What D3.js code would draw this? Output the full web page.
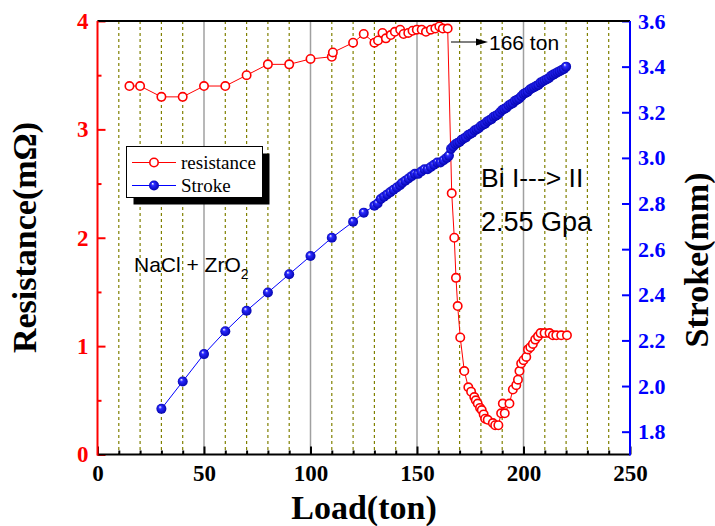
<!DOCTYPE html>
<html>
<head>
<meta charset="utf-8">
<script src="https://cdn.jsdelivr.net/npm/d3@7"></script>
<style>
  body { margin: 0; background: #fff; }
  svg { display: block; }
  .tick text { font-family: "Liberation Serif", "Times New Roman", serif; font-weight: bold; }
</style>
</head>
<body>
<div id="chart"></div>
<script>
// resistance (left axis, mOhm) vs load (ton)
const resLoad = [15,20,30,40,50,60,70,80,90,100,110,110.5,120,125,130,131.7,133.8,135.4,137.7,139.6,
  142.1,143.7,145.9,147.9,149.9,152.2,154.2,156.5,158.6,160.5,162.1,164.4,166.3,167.5,168.3,
  169.1,170.3,172.2,174.1,175.4,176.9,177.6,178.5,179.6,180.4,181.3,182,183.2,185.6,186.7,
  188.2,189.5,190.3,191.2,193.4,195,196.6,197.4,198.1,198.9,200,201.3,202.1,203.2,204.4,
  205.5,206.8,208,209.9,212.2,213.8,215.4,217.7,220.4];
const resVal = [3.40,3.40,3.30,3.30,3.40,3.40,3.50,3.60,3.60,3.65,3.67,3.71,3.80,3.88,3.80,3.82,3.89,3.84,3.87,3.90,
  3.92,3.88,3.89,3.91,3.92,3.92,3.90,3.92,3.93,3.95,3.93,3.93,2.41,2.00,1.63,
  1.37,1.08,0.77,0.62,0.58,0.53,0.50,0.47,0.43,0.41,0.37,0.33,0.32,0.29,0.27,
  0.27,0.38,0.47,0.38,0.47,0.60,0.64,0.69,0.77,0.84,0.87,0.90,0.97,0.99,1.02,
  1.06,1.09,1.12,1.12,1.12,1.10,1.10,1.10,1.10];

// stroke (right axis, mm) vs load (ton)
const strokeLoad = [30,40,50,60,70,80,90,100,110,120,125,130,131.5,133,134.5,136,137.5,139,140.5,142,
  143,144.5,146,147.5,149,150.5,152,153.5,155,156.5,158,159.5,161,162.5,164,165,166,
  167,168,169,170,171,172,173,174,175,176,177,178,179,180,181,182,183,184,185,186,187,188,189,190,
  191,192,193,194,195,196,197,198,199,200,201,202,203,204,205,206,207,208,209,210,
  211,212,213,214,215,216,217,218,219,220];
const strokeVal = [1.90,2.02,2.14,2.24,2.33,2.41,2.49,2.57,2.65,2.72,2.76,2.79,2.80,2.82,2.83,2.84,2.85,2.86,2.87,2.88,
  2.89,2.90,2.91,2.92,2.93,2.93,2.94,2.95,2.95,2.96,2.97,2.98,2.98,2.99,3.00,3.01,3.04,
  3.05,3.06,3.065,3.07,3.08,3.085,3.09,3.10,3.105,3.11,3.12,3.125,3.13,3.14,3.145,3.15,3.16,3.165,3.17,3.18,3.185,3.19,3.20,3.21,
  3.215,3.22,3.23,3.235,3.24,3.25,3.255,3.26,3.27,3.28,3.285,3.29,3.30,3.305,3.31,3.315,3.32,3.33,3.335,3.34,
  3.345,3.35,3.36,3.365,3.37,3.375,3.38,3.385,3.39,3.40];

const xMajor = [0,50,100,150,200,250];
const xMinor = [10,20,30,40,60,70,80,90,110,120,130,140,160,170,180,190,210,220,230,240];
const leftTicks = [0,1,2,3,4];
const leftMinor = [0.5,1.5,2.5,3.5];
const rightTicks = [1.8,2.0,2.2,2.4,2.6,2.8,3.0,3.2,3.4,3.6];

const W = 715, H = 526;
const plotLeft = 97.5, plotRight = 630, plotTop = 21, plotBottom = 454.5;

const svg = d3.select("#chart").append("svg")
  .attr("width", W).attr("height", H);

const x = d3.scaleLinear().domain([0,250]).range([plotLeft,plotRight]);
const yL = d3.scaleLinear().domain([0,4]).range([plotBottom,plotTop]);
const yR = d3.scaleLinear().domain([1.7,3.6]).range([plotBottom,plotTop]);

// gradient for the blue balls
const grad = svg.append("defs").append("radialGradient")
  .attr("id","ball").attr("cx","50%").attr("cy","50%").attr("r","55%")
  .attr("fx","35%").attr("fy","30%");
grad.append("stop").attr("offset","0%").attr("stop-color","#ffffff");
grad.append("stop").attr("offset","30%").attr("stop-color","#2a2aff");
grad.append("stop").attr("offset","100%").attr("stop-color","#0000a8");

// grid lines
svg.append("g").selectAll("line").data(xMinor).join("line")
  .attr("x1", d => x(d)).attr("x2", d => x(d))
  .attr("y1", plotTop).attr("y2", plotBottom)
  .attr("stroke","#808000").attr("stroke-width",1.2)
  .attr("stroke-dasharray","3,3");
svg.append("g").selectAll("line").data([50,100,150,200]).join("line")
  .attr("x1", d => x(d)).attr("x2", d => x(d))
  .attr("y1", plotTop).attr("y2", plotBottom)
  .attr("stroke","#a0a0a0").attr("stroke-width",1.5);

// bottom axis
const xAxis = svg.append("g").attr("transform",`translate(0,${plotBottom})`)
  .call(d3.axisBottom(x).tickValues(xMajor).tickSizeInner(-8).tickSizeOuter(0).tickPadding(10));
xAxis.select(".domain").remove();
xAxis.selectAll("line").attr("stroke","#000").attr("stroke-width",2);
xAxis.selectAll("text").attr("fill","#000").style("font-size","23px");
const xAxisMinor = svg.append("g").attr("transform",`translate(0,${plotBottom})`)
  .call(d3.axisBottom(x).tickValues(xMinor).tickSizeInner(-4).tickSizeOuter(0).tickFormat(""));
xAxisMinor.select(".domain").remove();
xAxisMinor.selectAll("line").attr("stroke","#000").attr("stroke-width",2);

// left axis (red)
const yAxisL = svg.append("g").attr("transform",`translate(${plotLeft},0)`)
  .call(d3.axisLeft(yL).tickValues(leftTicks).tickFormat(d3.format("d")).tickSizeInner(-8).tickSizeOuter(0).tickPadding(9));
yAxisL.select(".domain").remove();
yAxisL.selectAll("line").attr("stroke","#ff0000").attr("stroke-width",2);
yAxisL.selectAll("text").attr("fill","#ff0000").style("font-size","23px");
const yAxisLMinor = svg.append("g").attr("transform",`translate(${plotLeft},0)`)
  .call(d3.axisLeft(yL).tickValues(leftMinor).tickSizeInner(-4).tickSizeOuter(0).tickFormat(""));
yAxisLMinor.select(".domain").remove();
yAxisLMinor.selectAll("line").attr("stroke","#ff0000").attr("stroke-width",2);

// right axis (blue)
const yAxisR = svg.append("g").attr("transform",`translate(${plotRight},0)`)
  .call(d3.axisRight(yR).tickValues(rightTicks).tickFormat(d3.format(".1f")).tickSizeInner(-8).tickSizeOuter(0).tickPadding(8));
yAxisR.select(".domain").remove();
yAxisR.selectAll("line").attr("stroke","#0000ff").attr("stroke-width",2);
yAxisR.selectAll("text").attr("fill","#0000ff").style("font-size","22px");

// frame
svg.append("line").attr("x1",plotLeft).attr("x2",plotRight).attr("y1",plotTop).attr("y2",plotTop)
  .attr("stroke","#000").attr("stroke-width",2);
svg.append("line").attr("x1",plotLeft).attr("x2",plotRight).attr("y1",plotBottom).attr("y2",plotBottom)
  .attr("stroke","#000").attr("stroke-width",2);
svg.append("line").attr("x1",plotLeft).attr("x2",plotLeft).attr("y1",plotTop).attr("y2",plotBottom+1)
  .attr("stroke","#ff0000").attr("stroke-width",2);
svg.append("line").attr("x1",plotRight).attr("x2",plotRight).attr("y1",plotTop).attr("y2",plotBottom+1)
  .attr("stroke","#0000ff").attr("stroke-width",2);

// resistance series
const resData = resLoad.map((d,i) => ({x: d, y: resVal[i]}));
svg.append("path").datum(resData)
  .attr("fill","none").attr("stroke","#ff0000").attr("stroke-width",1)
  .attr("d", d3.line().x(d => x(d.x)).y(d => yL(d.y)));
svg.append("g").selectAll("circle").data(resData).join("circle")
  .attr("cx", d => x(d.x)).attr("cy", d => yL(d.y)).attr("r",4.2)
  .attr("fill","#fff").attr("stroke","#ff0000").attr("stroke-width",1.6);

// stroke series
const strokeData = strokeLoad.map((d,i) => ({x: d, y: strokeVal[i]}));
svg.append("path").datum(strokeData)
  .attr("fill","none").attr("stroke","#0000ff").attr("stroke-width",1)
  .attr("d", d3.line().x(d => x(d.x)).y(d => yR(d.y)));
svg.append("g").selectAll("circle").data(strokeData).join("circle")
  .attr("cx", d => x(d.x)).attr("cy", d => yR(d.y)).attr("r",5)
  .attr("fill","url(#ball)");

// legend
const lg = svg.append("g");
lg.append("rect").attr("x",133.5).attr("y",153.5).attr("width",136).attr("height",51).attr("fill","#000");
lg.append("rect").attr("x",126.5).attr("y",146.5).attr("width",136).attr("height",51)
  .attr("fill","#fff").attr("stroke","#000").attr("stroke-width",1);
lg.append("line").attr("x1",132).attr("x2",176).attr("y1",162.5).attr("y2",162.5)
  .attr("stroke","#ff0000").attr("stroke-width",1);
lg.append("circle").attr("cx",154).attr("cy",162.5).attr("r",4.2)
  .attr("fill","#fff").attr("stroke","#ff0000").attr("stroke-width",1.6);
lg.append("line").attr("x1",132).attr("x2",176).attr("y1",185.5).attr("y2",185.5)
  .attr("stroke","#0000ff").attr("stroke-width",1);
lg.append("circle").attr("cx",154).attr("cy",185.5).attr("r",5).attr("fill","url(#ball)");
lg.selectAll("text.lbl").data(["resistance","Stroke"]).join("text")
  .attr("x",181).attr("y",(d,i) => 162.5 + i*23 + 6)
  .style("font-family","'Liberation Serif', 'Times New Roman', serif")
  .style("font-size","19px")
  .text(d => d);

// annotations
const sans = "'Liberation Sans', Arial, sans-serif";
svg.append("line").attr("x1",451).attr("x2",478).attr("y1",42).attr("y2",42)
  .attr("stroke","#000").attr("stroke-width",1);
svg.append("path").attr("d","M476,38.5 L488,42 L476,45.5 Z").attr("fill","#000");
svg.append("text").attr("x",489).attr("y",49.5)
  .style("font-family",sans).style("font-size","21px").text("166 ton");
svg.append("text").attr("x",481).attr("y",187)
  .style("font-family",sans).style("font-size","26.5px").text("Bi I---> II");
svg.append("text").attr("x",481).attr("y",231)
  .style("font-family",sans).style("font-size","27px").text("2.55 Gpa");
const nacl = svg.append("text").attr("x",134).attr("y",272)
  .style("font-family",sans).style("font-size","21px");
nacl.append("tspan").text("NaCl + ZrO");
nacl.append("tspan").attr("dy",7).style("font-size","14px").text("2");

// axis titles
const serif = "'Liberation Serif', 'Times New Roman', serif";
svg.append("text").attr("x",364).attr("y",519).attr("text-anchor","middle")
  .style("font-family",serif).style("font-weight","bold").style("font-size","34px")
  .text("Load(ton)");
svg.append("text").attr("transform","translate(35.5,237.5) rotate(-90)").attr("text-anchor","middle")
  .style("font-family",serif).style("font-weight","bold").style("font-size","34px")
  .text("Resistance(mΩ)");
svg.append("text").attr("transform","translate(708,260) rotate(-90)").attr("text-anchor","middle")
  .style("font-family",serif).style("font-weight","bold").style("font-size","34px")
  .text("Stroke(mm)");
</script>
</body>
</html>
